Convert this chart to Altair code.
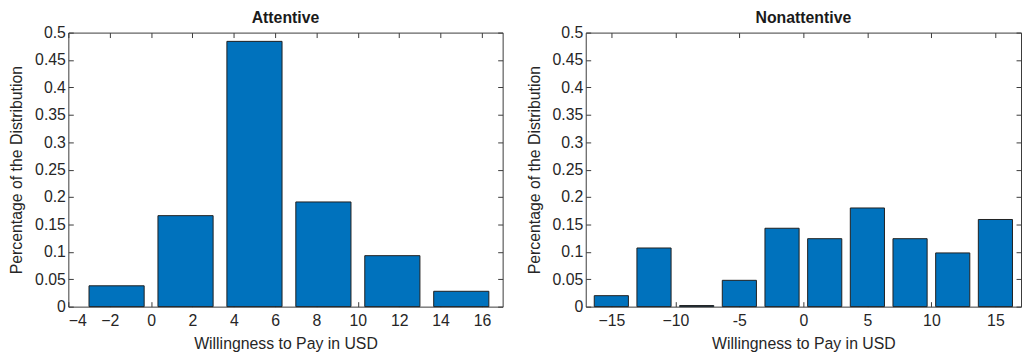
import altair as alt
import pandas as pd

# ---- data ----
att_centers = [-1.667, 1.667, 5.0, 8.333, 11.667, 15.0]
att_values = [0.038, 0.166, 0.484, 0.191, 0.093, 0.028]

non_centers = [-15.0, -11.667, -8.333, -5.0, -1.667, 1.667, 5.0, 8.333, 11.667, 15.0]
non_values = [0.020, 0.107, 0.002, 0.048, 0.143, 0.124, 0.180, 0.124, 0.098, 0.159]

att_xticks = [-4, -2, 0, 2, 4, 6, 8, 10, 12, 14, 16]
non_xticks = [-15, -10, -5, 0, 5, 10, 15]
y_ticks = [0, 0.05, 0.1, 0.15, 0.2, 0.25, 0.3, 0.35, 0.4, 0.45, 0.5]

BAR_WIDTH = 2.667  # in data units (0.8 of the 3.33 bin width)

FILL = "#0072BD"
EDGE = "#1f1f1f"
INK = "#262626"
FONT = "Liberation Sans"


def panel(title, centers, values, xdomain, xticks, label_expr, width):
    df = pd.DataFrame({"c": centers, "v": values})
    df["x0"] = df["c"] - BAR_WIDTH / 2
    df["x1"] = df["c"] + BAR_WIDTH / 2
    xs = alt.Scale(domain=xdomain, nice=False, zero=False)
    ys = alt.Scale(domain=[0, 0.5], nice=False)
    base = alt.Chart(df)
    bars = base.mark_bar(color=FILL, stroke=EDGE, strokeWidth=1).encode(
        x=alt.X("x0:Q", scale=xs,
                axis=alt.Axis(values=xticks, labelExpr=label_expr,
                              title="Willingness to Pay in USD")),
        x2="x1:Q",
        y=alt.Y("v:Q", scale=ys,
                axis=alt.Axis(values=y_ticks, format="~g",
                              title="Percentage of the Distribution")),
        y2=alt.datum(0),
    )
    box = base.mark_bar(opacity=0).encode(
        x=alt.X("x0:Q", scale=xs,
                axis=alt.Axis(orient="top", values=xticks, labels=False, title=None,
                              minExtent=0, maxExtent=0)),
        x2="x1:Q",
        y=alt.Y("v:Q", scale=ys,
                axis=alt.Axis(orient="right", values=y_ticks, labels=False, title=None,
                              minExtent=0, maxExtent=0)),
        y2=alt.datum(0),
    )
    return (
        alt.layer(bars, box)
        .resolve_axis(x="independent", y="independent")
        .properties(
            width=width,
            height=277,
            title=alt.TitleParams(title, fontSize=16, fontWeight="bold",
                                  font=FONT, color="#1a1a1a", offset=-1),
        )
    )


left = panel("Attentive", att_centers, att_values, [-4, 17], att_xticks,
             "datum.value < 0 ? '\u2212' + abs(datum.value) : datum.label", 439)
right = panel("Nonattentive", non_centers, non_values, [-17, 17], non_xticks,
              "datum.value == -5 ? '-5' : (datum.value < 0 ? '\u2212' + abs(datum.value) : datum.label)",
              440)

chart = (
    alt.hconcat(left, right, spacing=22)
    .properties(padding={"left": 0, "top": 0, "right": 0, "bottom": 0})
    .configure_view(stroke=None)
    .configure_axis(
        grid=False,
        labelFont=FONT,
        labelFontSize=16,
        labelColor=INK,
        titleFont=FONT,
        titleFontSize=16,
        titleFontWeight="normal",
        titleColor=INK,
        domainColor="#3a3a3a",
        tickColor="#3a3a3a",
        tickSize={"expr": "-5"},
    )
    .configure_axisX(labelPadding=11, titlePadding=7)
    .configure_axisY(labelPadding=8, titlePadding=10)
)

chart.save("out.html", embed_options={"renderer": "svg", "actions": False})
